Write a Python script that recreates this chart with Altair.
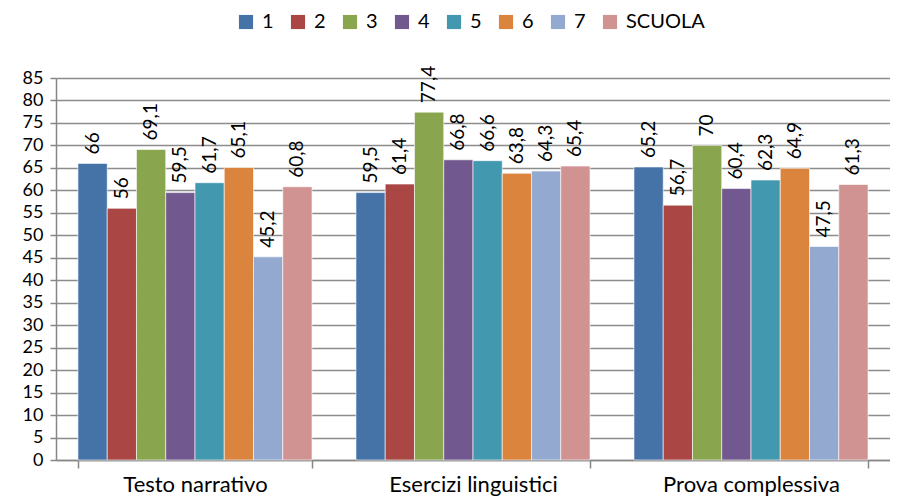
import altair as alt
import pandas as pd

categories = ["Testo narrativo", "Esercizi linguistici", "Prova complessiva"]
series = ["1", "2", "3", "4", "5", "6", "7", "SCUOLA"]
colors = ["#4572A7", "#AA4643", "#89A54E", "#71588F", "#4198AF", "#DB843D", "#93A9CF", "#D19392"]
testo_narrativo = [66, 56, 69.1, 59.5, 61.7, 65.1, 45.2, 60.8]
esercizi_linguistici = [59.5, 61.4, 77.4, 66.8, 66.6, 63.8, 64.3, 65.4]
prova_complessiva = [65.2, 56.7, 70, 60.4, 62.3, 64.9, 47.5, 61.3]
y_ticks = list(range(0, 90, 5))

rows = []
for cat, vals in zip(categories, [testo_narrativo, esercizi_linguistici, prova_complessiva]):
    for s, v in zip(series, vals):
        rows.append({"cat": cat, "serie": s, "val": v, "lab": f"{v:g}".replace(".", ",")})
df = pd.DataFrame(rows)

FONT = "Lato"

x_enc = alt.X("cat:N", sort=categories, title=None,
              scale=alt.Scale(paddingInner=0.158, paddingOuter=0.079),
              axis=alt.Axis(labelAngle=0, labelFontSize=22, labelFont=FONT, labelColor="#000",
                            labelLimit=0, labelBaseline="top",
                            tickBand="extent", tickSize=8, tickColor="#868686", tickWidth=1.5,
                            domainColor="#868686", domainWidth=1.5, labelPadding=6, grid=False))
xo_enc = alt.XOffset("serie:N", sort=series, scale=alt.Scale(paddingInner=0, paddingOuter=0))
y_enc = alt.Y("val:Q", title=None,
              scale=alt.Scale(domain=[0, 85], nice=False),
              axis=alt.Axis(values=y_ticks, labelOverlap=False, labelFontSize=18, labelFont=FONT,
                            labelColor="#000",
                            tickSize=6, tickColor="#868686", tickWidth=1.5, labelPadding=7,
                            domainColor="#868686", domainWidth=1.5,
                            gridColor="#8c8c8c", gridWidth=1.5))

base = alt.Chart(df).encode(x=x_enc, xOffset=xo_enc, y=y_enc)

bars = base.mark_bar(stroke="white", strokeWidth=0.6).encode(
    color=alt.Color("serie:N", sort=series,
                    scale=alt.Scale(domain=series, range=colors),
                    legend=alt.Legend(title=None, orient="none", direction="horizontal",
                                      legendX=180, legendY=-66,
                                      symbolType="square",
                                      symbolSize=200, symbolStrokeWidth=0, symbolOpacity=1,
                                      labelFontSize=20, labelFont=FONT, labelColor="#000",
                                      labelOffset=6, columnPadding=14)),
)

labels = base.mark_text(angle=270, align="left", baseline="middle", dx=9,
                        fontSize=19, font=FONT, color="#000").encode(text="lab:N")

chart = (bars + labels).properties(
    width=834, height=382,
    autosize=alt.AutoSizeParams(type="none"),
    padding={"left": 48, "top": 70, "right": 0, "bottom": 36},
).configure_view(stroke=None)

chart.save("out.html", embed_options={"renderer": "svg", "actions": False})
